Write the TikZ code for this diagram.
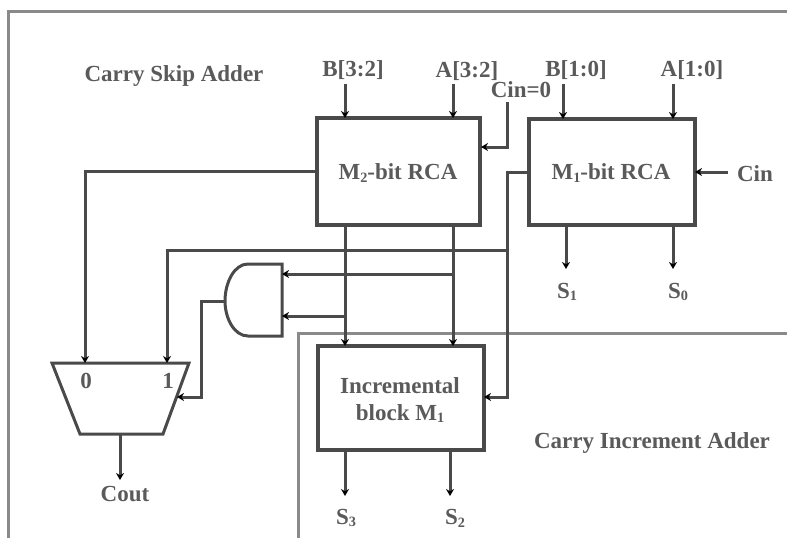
\documentclass[tikz,border=0pt]{standalone}
\usepackage{fontspec}
\setmainfont{Liberation Serif}
\usetikzlibrary{arrows.meta}
\definecolor{ink}{HTML}{4A4A4A}
\definecolor{txt}{HTML}{5A5A5A}
\definecolor{framec}{HTML}{8A8A8A}
\tikzset{
  x=1pt,y=-1pt,
  blockbox/.style={draw=ink,line width=3.4pt,fill=white,inner sep=0pt,outer sep=0pt,anchor=north west,align=center},
  wire/.style={draw=ink,line width=3pt},
  sig/.style={wire,-{Stealth[length=7pt,width=8pt,black]}},
  lbl/.style={text=txt,font=\bfseries\fontsize{23}{27}\selectfont,inner sep=0pt,align=center},
  framel/.style={draw=framec,line width=3pt},
}
\newcommand{\lowsub}[1]{\raisebox{-0.12em}{\scalebox{0.62}{#1}}}
\begin{document}
\begin{tikzpicture}
\useasboundingbox (0,0) rectangle (787,538);
\fill[white] (0,0) rectangle (787,538);
% frames
\draw[framel] (8,538) -- (8,11) -- (787,11);
\draw[framel] (298,538) -- (298,333) -- (787,333);
% blocks
\node[blockbox,minimum width=163pt,minimum height=107pt] (m2) at (317,118) {};
\node[blockbox,minimum width=166pt,minimum height=106pt] (m1) at (529,119) {};
\node[blockbox,minimum width=166pt,minimum height=104pt] (inc) at (318,346) {};
% mux
\coordinate (muxnw) at (52,363);
\coordinate (muxne) at (189,363);
\coordinate (muxse) at (163,434);
\coordinate (muxsw) at (80,434);
\draw[ink,line width=3pt,line join=miter] (muxnw) -- (muxne) -- (muxse) -- (muxsw) -- cycle;
% and gate
\coordinate (gout) at (225,301);
\coordinate (gin1) at (282,274);
\coordinate (gin2) at (282,316);
\draw[ink,line width=3pt] (282,264) -- (282,336) -- (248,336)
  .. controls (234,336) and (225,318) .. (gout)
  .. controls (225,283) and (234,264) .. (248,264) -- cycle;
% helpers
\coordinate (muxr) at (177,397);
% top inputs
\draw[sig] (345,84) -- (345,118);
\draw[sig] (453,84) -- (453,118);
\draw[sig] (563,84) -- (563,119);
\draw[sig] (673,84) -- (673,119);
\draw[sig] (507,102) -- (507,147) -- (481,147);
\draw[sig] (728,172) -- (m1.east);
% M1 outputs
\draw[sig] (566,225) -- (566,269);
\draw[sig] (673,225) -- (673,269);
% M2 to inc
\draw[sig] (345,225) -- (345,346);
\draw[sig] (453,225) -- (453,346);
% M2 carry to mux 0
\draw[sig] (m2.west) -| (85,363);
% carry to mux 1
\draw[sig] (507,250) -- (167,250) -- (167,363);
% M1 carry to inc
\draw[sig] (m1.west) -| (507,397) -- (484,397);
% and inputs
\draw[sig] (453,274) -- (gin1);
\draw[sig] (345,316) -- (gin2);
% and output to mux select
\draw[sig] (gout) -- (201,301) -- (201,397) -- (muxr);
% outputs
\draw[sig] (120,434) -- (120,480);
\draw[sig] (345,450) -- (345,496);
\draw[sig] (450,450) -- (450,496);
% labels
\node[lbl] (title1) at (174,76) {Carry Skip Adder};
\node[lbl] (title2) at (652,443) {Carry Increment Adder};
\node[lbl] (b32) at (353,70) {B[3:2]};
\node[lbl] (a32) at (467,71) {A[3:2]};
\node[lbl] (cin0) at (521,90) {Cin=0};
\node[lbl] (b10) at (576,70) {B[1:0]};
\node[lbl] (a10) at (692,70) {A[1:0]};
\node[lbl] (cin) at (755,174) {Cin};
\node[lbl] (s1) at (567,292) {S\lowsub{1}};
\node[lbl] (s0) at (678,292) {S\lowsub{0}};
\node[lbl] (s3) at (346,518) {S\lowsub{3}};
\node[lbl] (s2) at (455,518) {S\lowsub{2}};
\node[lbl] (cout) at (125,494) {Cout};
\node[lbl] (mux0) at (86,381) {0};
\node[lbl] (mux1) at (168,381) {1};
\node[lbl] (m2t) at (398,173) {M\lowsub{2}-bit RCA};
\node[lbl] (m1t) at (611,173) {M\lowsub{1}-bit RCA};
\node[lbl] (inct) at (400,400) {Incremental\\block M\lowsub{1}};
\end{tikzpicture}
\end{document}
